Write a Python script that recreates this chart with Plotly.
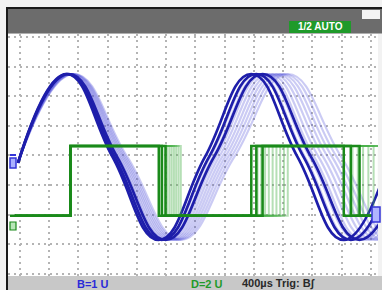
import plotly.graph_objects as go

# Horizontal: time in µs (400 µs/div). Vertical: screen divisions.
t_start = -27
blue_start = -0.25
blue_peak = 2.75
blue_mid = -0.05
blue_trough = -2.85

# Quarter-cycle event times (µs) read per sweep:
# peak1, fall-cross, trough1, rise-cross, peak2, fall-cross, trough2, rise-cross
blue_bright = [
    [633, 1265, 1898, 2530, 3163, 3795, 4428, 5060],
    [647, 1293, 1939, 2586, 3232, 3878, 4524, 5171],
    [665, 1328, 1991, 2654, 3318, 3981, 4644, 5308],
]
blue_persist = [
    [650, 1300, 1949, 2599, 3248, 3898, 4547, 5197],
    [661, 1321, 1981, 2640, 3300, 3960, 4620, 5279],
    [672, 1342, 2012, 2682, 3352, 4022, 4692, 5362],
    [682, 1362, 2043, 2723, 3403, 4083, 4764, 5444],
    [693, 1384, 2074, 2765, 3455, 4146, 4836, 5527],
    [704, 1405, 2105, 2806, 3507, 4208, 4909, 5609],
    [714, 1425, 2136, 2847, 3558, 4269, 4980, 5691],
    [725, 1446, 2168, 2889, 3610, 4331, 5053, 5774],
    [736, 1468, 2199, 2931, 3662, 4394, 5125, 5857],
]
blue_levels = [blue_start, blue_peak, blue_mid, blue_trough, blue_mid,
               blue_peak, blue_mid, blue_trough, blue_mid]

green_low = -2.04
green_high = 0.32
green_start = -68
green_rise1 = 690
green_end = 5000

x_range = [-164, 4896]
y_range = [-4.07, 4.10]

W, H = 382, 290
L, R, T, B = 8, 4, 34, 14
PW, PH = W - L - R, H - T - B


def px(x):
    return (x - L) / PW


def py(y):
    return (H - B - y) / PH


fig = go.Figure()

blue_dark = "#1e1eaa"
blue_fade = "rgba(70,70,215,0.28)"
green_dark = "#1a8a1a"
green_fade = "rgba(70,175,70,0.4)"

for ev in blue_persist:
    fig.add_trace(go.Scatter(x=[t_start] + ev, y=blue_levels, mode="lines",
                             line=dict(color=blue_fade, width=2.2, shape="spline", smoothing=1.3),
                             hoverinfo="skip", showlegend=False))
for ev in blue_bright:
    fig.add_trace(go.Scatter(x=[t_start] + ev, y=blue_levels, mode="lines",
                             line=dict(color=blue_dark, width=2.7, shape="spline", smoothing=1.3),
                             hoverinfo="skip", showlegend=False))


def green_xy(ev):
    xs = [green_start, green_rise1, ev[2], ev[4], ev[6], green_end]
    ys = [green_low, green_high, green_low, green_high, green_low, green_low]
    return xs, ys


for ev in blue_persist:
    gx, gy = green_xy(ev)
    fig.add_trace(go.Scatter(x=gx, y=gy, mode="lines",
                             line=dict(color=green_fade, width=2, shape="hv"),
                             hoverinfo="skip", showlegend=False))
for ev in blue_bright:
    gx, gy = green_xy(ev)
    fig.add_trace(go.Scatter(x=gx, y=gy, mode="lines",
                             line=dict(color=green_dark, width=2.5, shape="hv"),
                             hoverinfo="skip", showlegend=False))

shapes = [
    # top dark bar
    dict(type="rect", xref="paper", yref="paper", x0=px(8), x1=px(382), y0=py(33.5), y1=py(9),
         fillcolor="#6c6c6c", line_width=0, layer="below"),
    dict(type="rect", xref="paper", yref="paper", x0=px(6), x1=px(382), y0=py(9), y1=py(7),
         fillcolor="#1a1a1a", line_width=0, layer="below"),
    # left border
    dict(type="rect", xref="paper", yref="paper", x0=px(6), x1=px(8), y0=py(290), y1=py(7),
         fillcolor="#1a1a1a", line_width=0, layer="below"),
    # bottom bar
    dict(type="rect", xref="paper", yref="paper", x0=px(8), x1=px(382), y0=py(290), y1=py(276),
         fillcolor="#c8c8c8", line_width=0, layer="below"),
    # AUTO box
    dict(type="rect", xref="paper", yref="paper", x0=px(289), x1=px(351), y0=py(33), y1=py(21),
         fillcolor="#1f9a2a", line_width=0),
    # icon
    dict(type="rect", xref="paper", yref="paper", x0=px(362), x1=px(380), y0=py(19), y1=py(10),
         fillcolor="#f4f4f4", line_width=0),
    # left blue marker
    dict(type="rect", xref="paper", yref="paper", x0=px(10), x1=px(16), y0=py(168), y1=py(158),
         fillcolor="#aab0ff", line=dict(color="#3434d8", width=1.5)),
    dict(type="rect", xref="paper", yref="paper", x0=px(10), x1=px(16), y0=py(156), y1=py(154),
         fillcolor="#3434d8", line_width=0),
    # left green marker
    dict(type="rect", xref="paper", yref="paper", x0=px(10), x1=px(16), y0=py(217), y1=py(214.5),
         fillcolor="#1a8a1a", line_width=0),
    dict(type="rect", xref="paper", yref="paper", x0=px(10), x1=px(16), y0=py(230), y1=py(222),
         fillcolor="#b9e6b9", line=dict(color="#1a8a1a", width=1.2)),
    # right marker
    dict(type="rect", xref="paper", yref="paper", x0=px(372), x1=px(380), y0=py(222), y1=py(207),
         fillcolor="#b0b4ff", line=dict(color="#3434d8", width=1.5)),
]

annotations = [
    dict(x=px(320), y=py(27), xref="paper", yref="paper", text="<b>1/2 AUTO</b>", showarrow=False,
         xanchor="center", yanchor="middle",
         font=dict(family="Liberation Sans", size=10, color="white")),
    dict(x=px(93), y=py(283.5), xref="paper", yref="paper", text="<b>B=1 U</b>", showarrow=False,
         xanchor="center", yanchor="middle",
         font=dict(family="Liberation Sans", size=11, color="#2a2ad8")),
    dict(x=px(207), y=py(283.5), xref="paper", yref="paper", text="<b>D=2 U</b>", showarrow=False,
         xanchor="center", yanchor="middle",
         font=dict(family="Liberation Sans", size=11, color="#1f9a2a")),
    dict(x=px(240), y=py(283.5), xref="paper", yref="paper", text="<b>400µs Trig: B∫</b>",
         showarrow=False, xanchor="left", yanchor="middle",
         font=dict(family="Liberation Sans", size=11, color="#2a2a2a")),
]

fig.update_layout(
    width=W, height=H,
    margin=dict(l=L, r=R, t=T, b=B),
    paper_bgcolor="#f2f2f2",
    plot_bgcolor="white",
    shapes=shapes,
    annotations=annotations,
    showlegend=False,
    xaxis=dict(range=x_range, tick0=0, dtick=400, showgrid=True, gridcolor="#b4b4b4",
               griddash="2px,4px", gridwidth=1.5, zeroline=False, showticklabels=False,
               ticks="", showline=False, fixedrange=True),
    yaxis=dict(range=y_range, tick0=0, dtick=1, showgrid=True, gridcolor="#b4b4b4",
               griddash="2px,4px", gridwidth=1.5, zeroline=False, showticklabels=False,
               ticks="", showline=False, fixedrange=True),
)

fig.write_html("out.html", config={"displayModeBar": False},
               post_script="document.body.style.margin='0';document.body.style.overflow='hidden';")
